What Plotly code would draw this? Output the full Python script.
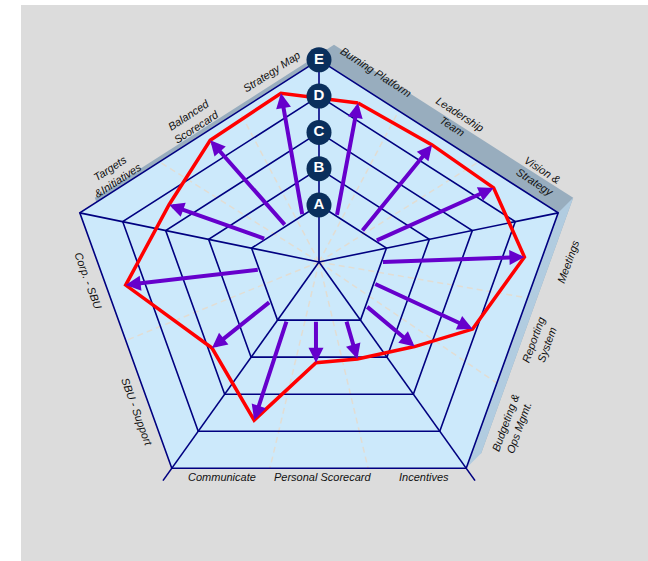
import math
import plotly.graph_objects as go

# ---------------- data ----------------
categories = ["Burning Platform", "Leadership Team", "Vision & Strategy", "Meetings",
              "Reporting System", "Budgeting & Ops Mgmt.", "Incentives", "Personal Scorecard",
              "Communicate", "SBU - Support", "Corp. - SBU", "Targets & Initiatives",
              "Balanced Scorecard", "Strategy Map"]
scores = [4.5, 4.65, 4.55, 4.55, 3.9, 2.6, 2.05, 2.15, 3.7, 2.9, 4.5, 3.65, 4.7, 4.75]
start_level = 1
level_labels = ["A", "B", "C", "D", "E"]
label_text = ["Burning Platform", "Leadership<br>Team", "Vision &<br>Strategy", "Meetings",
              "Reporting<br>System", "Budgeting &<br>Ops Mgmt.", "Incentives",
              "Personal Scorecard", "Communicate", "SBU - Support", "Corp. - SBU",
              "Targets<br>&Initiatives", "Balanced<br>Scorecard", "Strategy Map"]

# ---------------- geometry / layout ----------------
CX, CY = 319, 262
R0, STEP = 57, 36.3
SHAPE = [(0, -1), (1.183, -0.243), (0.728, 1.02), (-0.728, 1.02), (-1.183, -0.243)]
tip_angles = [-76.2, -46.0, -23.0, -1.4, 23.6, 41.5, 68.4, 91.7, 112.3, 141.2, 173.2, 200.9, 228.2, 257.3]
start_angles = [-68.8, -35.3, -20.4, 0.0, 21.3, 43.0, 65.0, 93.0, 118.9, 141.0, 172.8, 203.2, 227.4, 250.4]
edge_splits = [[1/3, 2/3], [1/3, 2/3], [1/3, 2/3], [0.5], [1/3, 2/3]]
label_pos = [(376, 72, 33), (456, 120, 33), (539, 176, 33), (568, 262, -70), (540, 342, -70),
             (512, 425, -70), (424, 477, 0), (322, 477, 0), (222, 477, 0), (137, 412, 70),
             (88, 280, 70), (114, 174, -33), (192, 121, -33), (271, 72, -33)]
OFF = (15, -15)

NAVY = "#000080"
ARROW = "#6600cc"
FACE = "#cce9fb"


def scale(level):
    return R0 + STEP * (level - 1)


def ray_hit(theta_deg):
    ux, uy = math.cos(math.radians(theta_deg)), math.sin(math.radians(theta_deg))
    n = len(SHAPE)
    for i in range(n):
        px, py = SHAPE[i]
        qx, qy = SHAPE[(i + 1) % n]
        dx, dy = qx - px, qy - py
        det = -ux * dy + dx * uy
        if abs(det) < 1e-12:
            continue
        t = (-px * dy + dx * py) / det
        k = (ux * py - uy * px) / det
        if t > 0 and -1e-9 <= k <= 1 + 1e-9:
            return t
    return 1.0


def point(theta_deg, level):
    t = ray_hit(theta_deg) * scale(level)
    return CX + t * math.cos(math.radians(theta_deg)), CY + t * math.sin(math.radians(theta_deg))


def ring(s):
    return [(CX + s * a, CY + s * b) for a, b in SHAPE]


def path(pts):
    return "M " + " L ".join(f"{x:.2f},{y:.2f}" for x, y in pts) + " Z"


fig = go.Figure()
shapes = []
# background panel
shapes.append(dict(type="rect", xref="x", yref="y", x0=21, x1=648, y0=5, y1=561,
                   fillcolor="#dcdcdc", line=dict(width=0), layer="below"))
outer = ring(scale(5))
back = [(x + OFF[0], y + OFF[1]) for x, y in outer]
shapes.append(dict(type="path", path=path(back), fillcolor="#98adbe", line=dict(width=0), layer="below"))
side = [outer[1], outer[2], back[2], back[1]]
shapes.append(dict(type="path", path=path(side), fillcolor="#b1cce0", line=dict(width=0), layer="below"))
shapes.append(dict(type="path", path=path(outer), fillcolor=FACE, line=dict(width=0), layer="below"))

# dashed sector spokes
for i, fr in enumerate(edge_splits):
    p, q = outer[i], outer[(i + 1) % 5]
    for f in fr:
        ex, ey = p[0] + f * (q[0] - p[0]), p[1] + f * (q[1] - p[1])
        fig.add_trace(go.Scatter(x=[CX, ex], y=[CY, ey], mode="lines",
                                 line=dict(color="#e2ddd3", width=1.5, dash="6px,4px"),
                                 hoverinfo="skip", showlegend=False))

# rings
for lv in range(1, 6):
    pts = ring(scale(lv))
    pts.append(pts[0])
    fig.add_trace(go.Scatter(x=[p[0] for p in pts], y=[p[1] for p in pts], mode="lines",
                             line=dict(color=NAVY, width=1.6), hoverinfo="skip", showlegend=False))
# vertex spokes
for j, (a, b) in enumerate(SHAPE):
    s_end = scale(5) * (1.06 if b > 0.5 else 1.0)
    fig.add_trace(go.Scatter(x=[CX, CX + s_end * a], y=[CY, CY + s_end * b], mode="lines",
                             line=dict(color=NAVY, width=1.6), hoverinfo="skip", showlegend=False))

# red profile
tips = [point(a, v) for a, v in zip(tip_angles, scores)]
rx = [p[0] for p in tips] + [tips[0][0]]
ry = [p[1] for p in tips] + [tips[0][1]]
fig.add_trace(go.Scatter(x=rx, y=ry, mode="lines", line=dict(color="#ff0000", width=3.5),
                         hoverinfo="skip", showlegend=False))

# level badges
fig.add_trace(go.Scatter(x=[CX] * 5, y=[CY - scale(l) for l in range(1, 6)], mode="markers+text",
                         marker=dict(size=25, color="#0a2f5c", line=dict(width=0)),
                         text=level_labels, textposition="middle center",
                         textfont=dict(color="white", size=15, family="Liberation Sans", weight="bold"),
                         hoverinfo="skip", showlegend=False))

annotations = []
for sa, ta, v in zip(start_angles, tip_angles, scores):
    x0, y0 = point(sa, start_level)
    x1, y1 = point(ta, v)
    annotations.append(dict(x=x1, y=y1, ax=x0, ay=y0, xref="x", yref="y", axref="x", ayref="y",
                            text="", showarrow=True, arrowhead=2, arrowsize=0.75, arrowwidth=4,
                            arrowcolor=ARROW, standoff=0))
for txt, (lx, ly, ang) in zip(label_text, label_pos):
    annotations.append(dict(x=lx, y=ly, xref="x", yref="y", text=txt, showarrow=False,
                            textangle=ang, align="center",
                            font=dict(family="Liberation Sans", size=11, color="#111111", style="italic")))

fig.update_layout(width=648, height=561, margin=dict(l=0, r=0, t=0, b=0),
                  paper_bgcolor="white", plot_bgcolor="white",
                  xaxis=dict(range=[0, 648], visible=False, fixedrange=True),
                  yaxis=dict(range=[561, 0], visible=False, fixedrange=True),
                  shapes=shapes, annotations=annotations, showlegend=False)
fig.write_html("out.html", config={"displayModeBar": False},
               post_script="document.body.style.margin='0';")
